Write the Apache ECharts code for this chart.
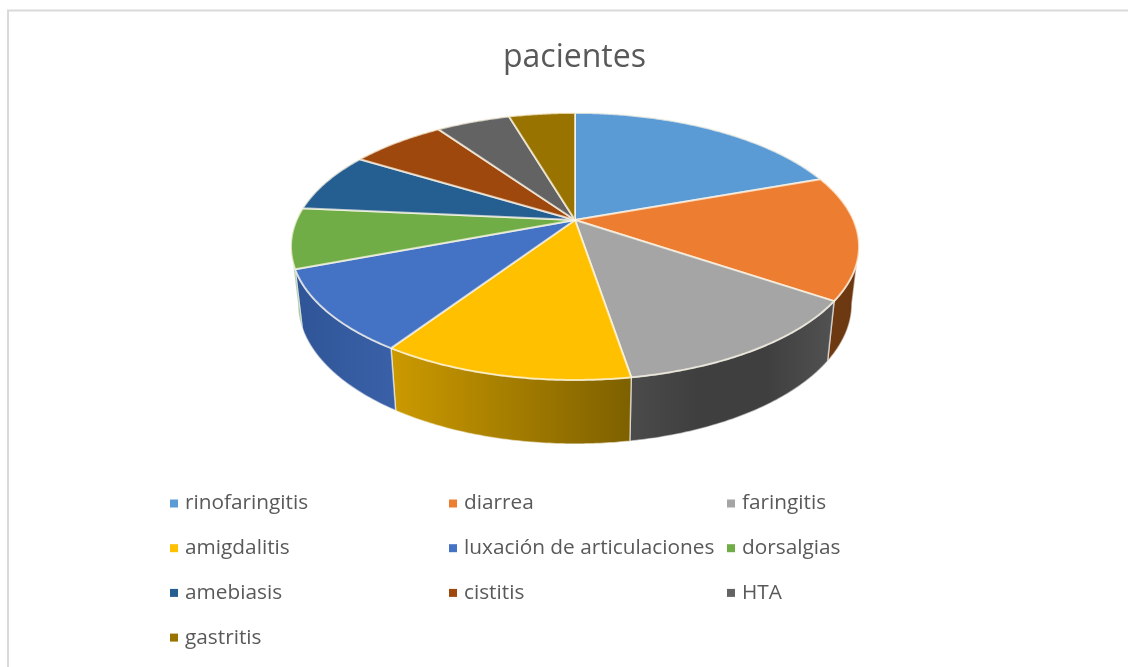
<!DOCTYPE html>
<html><head><meta charset="utf-8">
<style>html,body{margin:0;padding:0;background:#fff}#c{width:1128px;height:667px}</style>
<script src="https://cdn.jsdelivr.net/npm/echarts@6/dist/echarts.min.js"></script>
</head><body><div id="c"></div>
<script>
const categories = ['rinofaringitis','diarrea','faringitis','amigdalitis','luxación de articulaciones','dorsalgias','amebiasis','cistitis','HTA','gastritis'];
const pacientes = [19.5,15,12.9,11.9,9.9,7.3,7.25,6.6,5.1,4.55];
const topColors = ['#5b9bd5','#ed7d31','#a5a5a5','#ffc000','#4472c4','#70ad47','#255e91','#9e480e','#636363','#997300'];
const wallColors = [
  ['#3d6a93','#3d6a93'],['#6d3a12','#6a3710'],['#4b4b4b','#3f3f3f','#3f3f3f','#525252'],['#cc9a00','#7d6000'],
  ['#2f5597','#3a61a8'],['#6f9f4f','#6f9f4f'],['#1c4568','#1c4568'],['#6e320a','#6e320a'],['#454545','#454545'],['#6b5000','#6b5000']];
const legendColumns = [[0,3,6,9],[1,4,7],[2,5,8]];
const legendLeft = [170,449,727];

const chart = echarts.init(document.getElementById('c'));
const total = pacientes.reduce((a,b)=>a+b,0);
const P = {cx:575, cy:220, a:278.4, b:128.3, k:0.198, drop:56, shrinkX:0.975, shrinkY:1.05};
const frontFrom = Math.PI*101.4/180, frontTo = Math.PI*258.6/180;

function project(t, sx, sy, dy){
  const u=Math.sin(t), v=Math.cos(t), w=1+P.k*v;
  return [P.cx+sx*P.a*u/w, P.cy+dy-sy*P.b*v/w];
}
function arc(t0,t1,sx,sy,dy){
  const n=Math.max(2,Math.ceil(Math.abs(t1-t0)/0.01)), pts=[];
  for(let i=0;i<=n;i++) pts.push(project(t0+(t1-t0)*i/n,sx,sy,dy));
  return pts;
}
function renderSlice(params, api){
  const i=params.seriesIndex;
  let before=0; for(let j=0;j<i;j++) before+=pacientes[j];
  const t0=before/total*Math.PI*2, t1=t0+api.value(0)/total*Math.PI*2;
  const children=[];
  const wa=Math.max(t0,frontFrom), wb=Math.min(t1,frontTo);
  if(wb>wa){
    const pts=arc(wa,wb,1,1,0).concat(arc(wb,wa,P.shrinkX,P.shrinkY,P.drop));
    const stops=wallColors[i].map((color,n,all)=>({offset:n/(all.length-1),color}));
    children.push({type:'polygon',shape:{points:pts},style:{
      fill:new echarts.graphic.LinearGradient(0,0,1,0,stops),
      stroke:'rgba(255,255,255,0.55)',lineWidth:1.5}});
  }
  const top=[[P.cx,P.cy]].concat(arc(t0,t1,1,1,0));
  children.push({type:'polygon',shape:{points:top},style:{fill:topColors[i],stroke:'rgba(255,250,235,0.7)',lineWidth:2,lineJoin:'round'}});
  return {type:'group',children};
}
chart.setOption({
  animation:false,
  backgroundColor:'#fff',
  title:{text:'pacientes',left:498,top:37,padding:5,textStyle:{fontFamily:'Open Sans',fontWeight:'normal',fontSize:32,color:'#595959'}},
  legend:legendColumns.map((col,n)=>({
    orient:'vertical',left:legendLeft[n],top:493,padding:0,itemWidth:8,itemHeight:8,itemGap:23.7,icon:'rect',selectedMode:false,
    data:col.map(i=>categories[i]),
    textStyle:{fontFamily:'Open Sans',fontSize:20.8,color:'#595959',padding:[0,0,0,2]}
  })),
  graphic:[{type:'polyline',shape:{points:[[8,667],[8,10.5],[1128,10.5]]},style:{stroke:'#d9d9d9',lineWidth:2,fill:null},silent:true}],
  series:categories.map((name,i)=>({
    type:'custom',name,coordinateSystem:'none',renderItem:renderSlice,silent:true,
    itemStyle:{color:topColors[i]},data:[[pacientes[i]]]
  }))
});
</script></body></html>
